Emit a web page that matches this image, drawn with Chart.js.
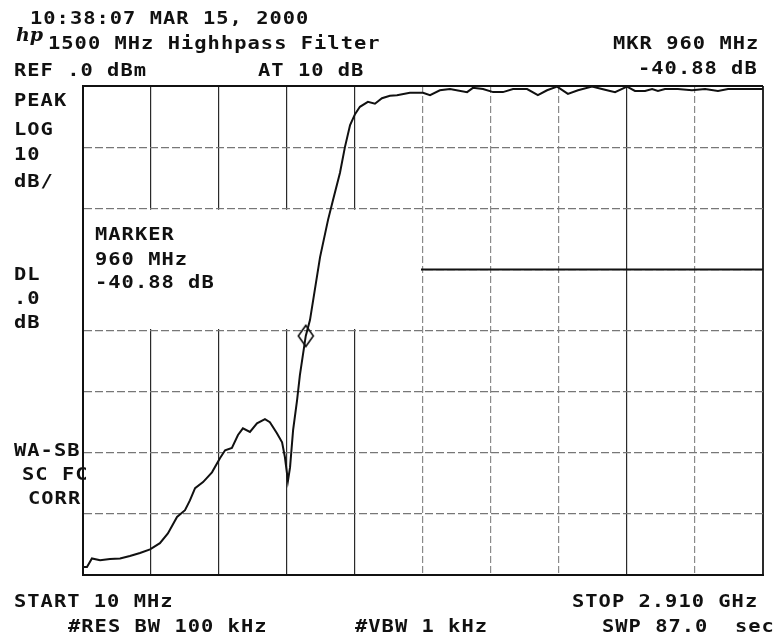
<!DOCTYPE html>
<html><head><meta charset="utf-8">
<script src="https://cdn.jsdelivr.net/npm/chart.js@4/dist/chart.umd.min.js"></script>
<style>
html,body{margin:0;padding:0;background:#fff;}
#wrap{position:relative;width:781px;height:636px;overflow:hidden;background:#fff;}
canvas{position:absolute;left:0;top:0;}
.t{position:absolute;font-family:"DejaVu Sans Mono",monospace;font-weight:bold;font-size:17px;line-height:17px;white-space:pre;color:#111;transform:scaleX(1.2);transform-origin:0 0;letter-spacing:0.85px;}
.hp{position:absolute;font-family:"DejaVu Serif",serif;font-style:italic;font-weight:bold;font-size:19px;line-height:19px;color:#111;}
</style></head><body>
<div id="wrap"><canvas id="c" width="781" height="636"></canvas></div>
<script>
// ---- data ----
const FREQ_MHZ = [10,27,48,83,125,168,210,253,296,338,372,411,445,466,488,522,560,594,616,645,671,692,722,752,786,807,837,859,871,884,893,906,923,935,960,978,1021,1055,1076,1106,1127,1149,1170,1191,1225,1255,1285,1319,1349,1404,1460,1490,1532,1575,1648,1673,1716,1759,1801,1844,1904,1950,1989,2032,2078,2121,2181,2223,2279,2330,2364,2407,2437,2462,2492,2547,2607,2663,2718,2761,2833,2910];
const LEVEL_DB = [-78.7,-78.7,-77.3,-77.6,-77.4,-77.3,-76.9,-76.4,-75.8,-74.8,-73.2,-70.5,-69.4,-67.8,-65.8,-64.8,-63.2,-60.9,-59.6,-59.2,-57.1,-56.0,-56.6,-55.2,-54.5,-55.0,-56.8,-58.3,-60.7,-64.6,-62.4,-56.3,-51.4,-47.3,-40.88,-38.3,-28.0,-21.9,-18.7,-14.2,-10.0,-6.4,-4.6,-3.4,-2.6,-2.9,-2.0,-1.6,-1.5,-1.1,-1.1,-1.5,-0.7,-0.5,-1.0,-0.3,-0.5,-1.0,-1.0,-0.5,-0.5,-1.5,-0.7,-0.1,-1.3,-0.7,-0.1,-0.5,-1.0,-0.1,-0.8,-0.8,-0.5,-0.8,-0.5,-0.5,-0.7,-0.5,-0.8,-0.5,-0.5,-0.5];
const MARKER_FREQ = [960];
const MARKER_DB = [-40.88];
const DISPLAY_LINE_DB = [-30];
const X_START = 10, X_STOP = 2910, X_PER_DIV = 290;
const Y_REF = 0, Y_BOTTOM = -80, Y_PER_DIV = 10;
const X_GRID = [10,300,590,880,1170,1460,1750,2040,2330,2620,2910];
const Y_GRID = [-80,-70,-60,-50,-40,-30,-20,-10,0];

// ---- text ----
const LABELS = [
  ["10:38:07 MAR 15, 2000", 30, 18],
  ["1500 MHz Highhpass Filter", 48, 43],
  ["REF .0 dBm", 14, 70],
  ["AT 10 dB", 258, 70],
  ["MKR 960 MHz", 613, 43],
  ["-40.88 dB", 638, 68],
  ["PEAK", 14, 100],
  ["LOG", 14, 129],
  ["10", 14, 154],
  ["dB/", 14, 181],
  ["MARKER", 95, 234],
  ["960 MHz", 95, 259],
  ["-40.88 dB", 95, 282],
  ["DL", 14, 274],
  [".0", 14, 298],
  ["dB", 14, 322],
  ["WA-SB", 14, 450],
  ["SC FC", 22, 474],
  ["CORR", 28, 498],
  ["START 10 MHz", 14, 601],
  ["STOP 2.910 GHz", 572, 601],
  ["#RES BW 100 kHz", 68, 626],
  ["#VBW 1 kHz", 355, 626],
  ["SWP 87.0  sec", 602, 626]
];
const wrap = document.getElementById('wrap');
LABELS.forEach(([txt, x, yc]) => {
  const d = document.createElement('div');
  d.className = 't';
  d.textContent = txt;
  d.style.left = x + 'px';
  d.style.top = (yc - 8.2) + 'px';
  wrap.appendChild(d);
});
const hp = document.createElement('div');
hp.className = 'hp'; hp.textContent = 'hp';
hp.style.left = '16px'; hp.style.top = '25px';
wrap.appendChild(hp);

// tall diamond marker symbol
const diamond = document.createElement('canvas');
diamond.width = 18; diamond.height = 24;
(function(){
  const g = diamond.getContext('2d');
  g.strokeStyle = '#111'; g.lineWidth = 1.6;
  g.beginPath();
  g.moveTo(9, 1.5); g.lineTo(16.5, 12); g.lineTo(9, 22.5); g.lineTo(1.5, 12); g.closePath();
  g.stroke();
})();

// ---- chart ----
const DARK_X = [0,1,2,3,4,8,10];
const markerBox = {
  id: 'markerBox',
  beforeDatasetDraw(chart, args) {
    if (chart.data.datasets[args.index].id !== 'trace') return;
    const {ctx, chartArea, scales: {x, y}} = chart;
    const x0 = chartArea.left + 1;
    const x1 = x.getPixelForValue(X_GRID[5]) - 2;
    const y0 = y.getPixelForValue(Y_GRID[6]) + 1.5;
    const y1 = y.getPixelForValue(Y_GRID[4]) - 1.5;
    ctx.save();
    ctx.fillStyle = '#fff';
    ctx.fillRect(x0, y0, x1 - x0, y1 - y0);
    ctx.restore();
  }
};

new Chart(document.getElementById('c'), {
  type: 'line',
  data: {
    datasets: [
      {
        id: 'marker', order: 0,
        data: MARKER_FREQ.map((f, i) => ({x: f, y: MARKER_DB[i]})),
        showLine: false, pointStyle: diamond, pointRadius: 10
      },
      {
        id: 'trace', order: 1,
        data: FREQ_MHZ.map((f, i) => ({x: f, y: LEVEL_DB[i]})),
        borderColor: '#111', borderWidth: 2, pointRadius: 0, tension: 0, fill: false
      },
      {
        id: 'dl', order: 2,
        data: [{x: X_START, y: DISPLAY_LINE_DB[0]}, {x: X_STOP, y: DISPLAY_LINE_DB[0]}],
        borderColor: '#111', borderWidth: 2, pointRadius: 0, fill: false
      }
    ]
  },
  options: {
    responsive: false, animation: false,
    layout: {padding: {left: 83, top: 86, right: 18, bottom: 61}},
    plugins: {legend: {display: false}, tooltip: {enabled: false}},
    scales: {
      x: {
        type: 'linear', min: X_START, max: X_STOP,
        afterBuildTicks: s => { s.ticks = X_GRID.map(v => ({value: v})); },
        ticks: {display: false},
        grid: {
          drawTicks: false, tickLength: 0,
          color: c => DARK_X.includes(c.index) ? '#2a2a2a' : '#8a8a8a',
          lineWidth: c => (c.index === 0 || c.index === 10) ? 2 : 1.2
        },
        border: {display: true, color: '#111', width: 2,
          dash: c => DARK_X.includes(c.index) ? [] : [7, 3]}
      },
      y: {
        type: 'linear', min: Y_BOTTOM, max: Y_REF,
        afterBuildTicks: s => { s.ticks = Y_GRID.map(v => ({value: v})); },
        ticks: {display: false},
        grid: {
          drawTicks: false, tickLength: 0,
          color: c => (c.index === 0 || c.index === 8) ? '#111' : '#777',
          lineWidth: c => (c.index === 0 || c.index === 8) ? 2 : 1.2
        },
        border: {display: true, color: '#111', width: 2,
          dash: c => (c.index === 0 || c.index === 8) ? [] : [8, 3]}
      }
    }
  },
  plugins: [markerBox]
});
</script>
</body></html>
